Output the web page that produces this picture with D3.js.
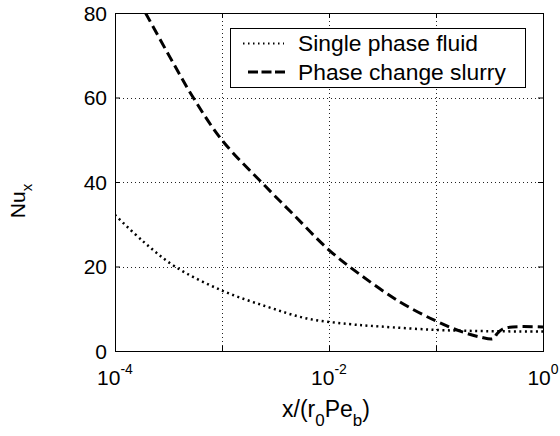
<!DOCTYPE html>
<html>
<head>
<meta charset="utf-8">
<script src="https://cdn.jsdelivr.net/npm/d3@7"></script>
<style>
  body { margin: 0; background: #fff; }
  text { font-family: "Liberation Sans", Arial, sans-serif; fill: #000; }
</style>
</head>
<body>
<svg id="chart" width="560" height="436"></svg>
<script>
// values
var singleX = [1e-4, 1.84e-4, 3.63e-4, 1e-3, 2.63e-3, 6.2e-3, 1.5e-2, 3e-2, 0.1, 0.3, 1.0];
var singleNu = [32.2, 25.9, 20, 14.3, 10.5, 7.7, 6.4, 5.8, 5.0, 4.7, 4.6];

var slurryX = [1.93e-4, 3.27e-4, 5.38e-4, 1e-3, 2.52e-3, 4.61e-3, 1e-2, 1.95e-2, 4.61e-2, 0.1, 0.168, 0.258, 0.343, 0.37, 0.42, 0.52, 1.0];
var slurryNu = [80, 69.5, 60, 49.9, 39.1, 32.4, 23.9, 18.1, 11.6, 7.1, 4.7, 3.3, 2.9, 4.0, 5.2, 5.7, 5.7];

var xTicks = [1e-4, 1e-3, 1e-2, 1e-1, 1];
var xTickLabels = ["-4", "", "-2", "", "0"]; // exponents that get a label
var yTicks = [0, 20, 40, 60, 80];

var legendNames = ["Single phase fluid", "Phase change slurry"];

// plot box (careful: "top" is taken by window.top)
var pLeft = 115, pRight = 543, pTop = 13, pBottom = 351;

var svg = d3.select("#chart");

var x = d3.scaleLog().domain([1e-4, 1]).range([pLeft, pRight]);
var y = d3.scaleLinear().domain([0, 80]).range([pBottom, pTop]);

// grid (dotted, matlab style)
var grid = svg.append("g").attr("stroke", "#222").attr("stroke-width", 1)
  .attr("stroke-dasharray", "1,3");
grid.selectAll(".gx").data(xTicks.slice(1, -1)).join("line").attr("class", "gx")
  .attr("x1", d => Math.round(x(d)) + 0.5).attr("x2", d => Math.round(x(d)) + 0.5)
  .attr("y1", pTop).attr("y2", pBottom);
grid.selectAll(".gy").data(yTicks.slice(1, -1)).join("line").attr("class", "gy")
  .attr("y1", d => Math.round(y(d)) + 0.5).attr("y2", d => Math.round(y(d)) + 0.5)
  .attr("x1", pLeft).attr("x2", pRight);

// axes - ticks inward on all four sides
var ax = svg.append("g");
ax.append("g").attr("transform", "translate(0," + pBottom + ")")
  .call(d3.axisBottom(x).tickValues(xTicks).tickSizeInner(-5).tickSizeOuter(0).tickFormat(""));
ax.append("g").attr("transform", "translate(0," + pTop + ")")
  .call(d3.axisTop(x).tickValues(xTicks).tickSizeInner(-5).tickSizeOuter(0).tickFormat(""));
ax.append("g").attr("transform", "translate(" + pLeft + ",0)")
  .call(d3.axisLeft(y).tickValues(yTicks).tickSizeInner(-5).tickSizeOuter(0).tickFormat(""));
ax.append("g").attr("transform", "translate(" + pRight + ",0)")
  .call(d3.axisRight(y).tickValues(yTicks).tickSizeInner(-5).tickSizeOuter(0).tickFormat(""));
ax.selectAll("path.domain").remove();
ax.selectAll("line").attr("stroke", "#000");

svg.append("rect")
  .attr("x", pLeft + 0.5).attr("y", pTop + 0.5)
  .attr("width", pRight - pLeft).attr("height", pBottom - pTop)
  .attr("fill", "none").attr("stroke", "#000").attr("stroke-width", 1);

// y tick labels
svg.selectAll(".ylab").data(yTicks).join("text").attr("class", "ylab")
  .attr("x", pLeft - 8).attr("y", d => y(d) + 7.5)
  .attr("text-anchor", "end").attr("font-size", 21)
  .text(d => d);

// x tick labels 10^n
xTicks.forEach(function(d, i) {
  if (!xTickLabels[i]) return;
  var t = svg.append("text").attr("x", x(d)).attr("y", 385)
    .attr("text-anchor", "middle").attr("font-size", 21);
  t.append("tspan").text("10");
  t.append("tspan").attr("font-size", 14).attr("dy", -11).text(xTickLabels[i]);
});

// axis labels
var xl = svg.append("text").attr("x", 326).attr("y", 417)
  .attr("text-anchor", "middle").attr("font-size", 23);
xl.append("tspan").text("x/(r");
xl.append("tspan").attr("font-size", 17).attr("dy", 9).text("0");
xl.append("tspan").attr("dy", -9).text("Pe");
xl.append("tspan").attr("font-size", 17).attr("dy", 9).text("b");
xl.append("tspan").attr("dy", -9).text(")");

var yl = svg.append("text").attr("transform", "translate(25,201) rotate(-90)")
  .attr("text-anchor", "middle").attr("font-size", 21);
yl.append("tspan").text("Nu");
yl.append("tspan").attr("font-size", 15).attr("dy", 7).text("x");

// curves
svg.append("clipPath").attr("id", "plotclip").append("rect")
  .attr("x", pLeft).attr("y", pTop).attr("width", pRight - pLeft).attr("height", pBottom - pTop);

var line = d3.line().x(d => x(d[0])).y(d => y(d[1])).curve(d3.curveCatmullRom.alpha(0.5));

svg.append("path")
  .datum(d3.zip(singleX, singleNu))
  .attr("d", line)
  .attr("clip-path", "url(#plotclip)")
  .attr("fill", "none").attr("stroke", "#000").attr("stroke-width", 2.5)
  .attr("stroke-dasharray", "2,3.5");

svg.append("path")
  .datum(d3.zip(slurryX, slurryNu))
  .attr("d", line)
  .attr("clip-path", "url(#plotclip)")
  .attr("fill", "none").attr("stroke", "#000").attr("stroke-width", 3)
  .attr("stroke-dasharray", "10,5");

// legend
var lg = svg.append("g");
lg.append("rect").attr("x", 230.5).attr("y", 28.5).attr("width", 295).attr("height", 59)
  .attr("fill", "#fff").attr("stroke", "#000").attr("stroke-width", 1);
lg.append("line").attr("x1", 243).attr("x2", 284).attr("y1", 43.5).attr("y2", 43.5)
  .attr("stroke", "#000").attr("stroke-width", 2).attr("stroke-dasharray", "1.5,3.5");
lg.append("line").attr("x1", 248).attr("x2", 285).attr("y1", 72).attr("y2", 72)
  .attr("stroke", "#000").attr("stroke-width", 3).attr("stroke-dasharray", "10,3.5");
lg.selectAll(".lt").data(legendNames).join("text").attr("class", "lt")
  .attr("x", 298).attr("y", (d, i) => 51 + i * 28.5)
  .attr("font-size", 22.8)
  .text(d => d);
</script>
</body>
</html>
